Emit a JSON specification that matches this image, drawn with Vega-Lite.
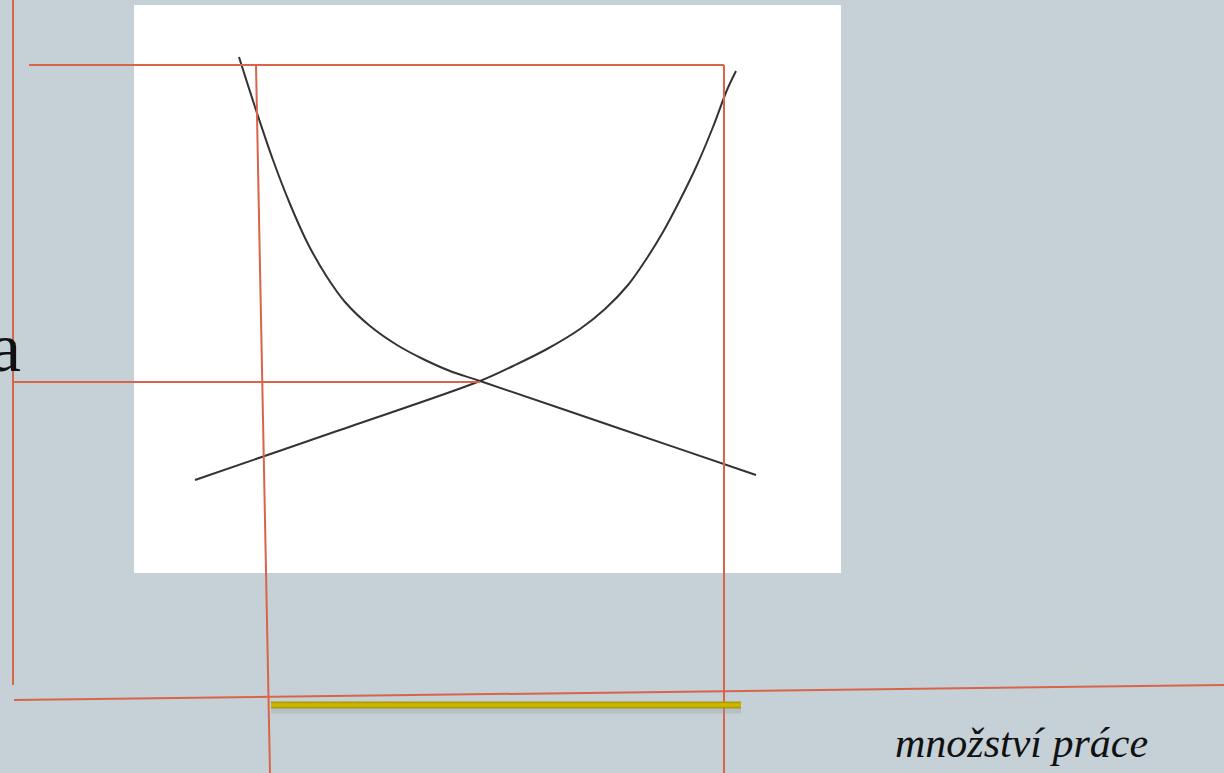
{
  "$schema": "https://vega.github.io/schema/vega-lite/v6.json",
  "autosize": {"type": "none"},
  "padding": 0,
  "width": 1224,
  "height": 773,
  "background": "#c5d0d7",
  "config": {"view": {"stroke": null}, "axis": {"disable": true}},
  "datasets": {
    "panel": [{"x1": 134, "x2": 841, "y1": 5, "y2": 573}],
    "guides": [
      {"id": "L1", "x1": 13, "y1": 0, "x2": 13, "y2": 685},
      {"id": "L2", "x1": 29, "y1": 65, "x2": 724, "y2": 65},
      {"id": "L3", "x1": 724, "y1": 65, "x2": 724, "y2": 773},
      {"id": "L4", "x1": 256, "y1": 65, "x2": 270, "y2": 773},
      {"id": "L5", "x1": 14, "y1": 382, "x2": 480, "y2": 382},
      {"id": "L6", "x1": 14, "y1": 700, "x2": 1224, "y2": 685}
    ],
    "bar": [{"x1": 271, "y1": 705, "x2": 741, "y2": 705, "ys": 710}],
    "curves": [
      {"s": "c1", "x": 239, "y": 57},
      {"s": "c1", "x": 255, "y": 107},
      {"s": "c1", "x": 273, "y": 160},
      {"s": "c1", "x": 290, "y": 204},
      {"s": "c1", "x": 308, "y": 244},
      {"s": "c1", "x": 327, "y": 277},
      {"s": "c1", "x": 345, "y": 302},
      {"s": "c1", "x": 370, "y": 326},
      {"s": "c1", "x": 397, "y": 345},
      {"s": "c1", "x": 423, "y": 359},
      {"s": "c1", "x": 450, "y": 371},
      {"s": "c1", "x": 480, "y": 381},
      {"s": "c1", "x": 618, "y": 428},
      {"s": "c1", "x": 756, "y": 475},
      {"s": "c2", "x": 195, "y": 480},
      {"s": "c2", "x": 337, "y": 431},
      {"s": "c2", "x": 480, "y": 381},
      {"s": "c2", "x": 513, "y": 366},
      {"s": "c2", "x": 547, "y": 349},
      {"s": "c2", "x": 580, "y": 329},
      {"s": "c2", "x": 605, "y": 309},
      {"s": "c2", "x": 628, "y": 285},
      {"s": "c2", "x": 647, "y": 258},
      {"s": "c2", "x": 663, "y": 232},
      {"s": "c2", "x": 680, "y": 200},
      {"s": "c2", "x": 697, "y": 165},
      {"s": "c2", "x": 713, "y": 127},
      {"s": "c2", "x": 727, "y": 90},
      {"s": "c2", "x": 736, "y": 71}
    ],
    "labelA": [{"x": 21, "y": 371, "t": "a"}],
    "labelX": [{"x": 895, "y": 757, "t": "množství práce"}]
  },
  "layer": [
    {
      "data": {"name": "panel"},
      "mark": {"type": "rect", "color": "#ffffff"},
      "encoding": {
        "x": {"field": "x1", "type": "quantitative", "scale": {"domain": [0, 1224], "nice": false, "zero": false}, "axis": null},
        "x2": {"field": "x2"},
        "y": {"field": "y1", "type": "quantitative", "scale": {"domain": [0, 773], "nice": false, "zero": false, "reverse": true}, "axis": null},
        "y2": {"field": "y2"}
      }
    },
    {
      "data": {"name": "curves"},
      "mark": {"type": "line", "color": "#333333", "strokeWidth": 2, "interpolate": "catmull-rom"},
      "encoding": {
        "x": {"field": "x", "type": "quantitative", "scale": {"domain": [0, 1224], "nice": false, "zero": false}, "axis": null},
        "y": {"field": "y", "type": "quantitative", "scale": {"domain": [0, 773], "nice": false, "zero": false, "reverse": true}, "axis": null},
        "detail": {"field": "s", "type": "nominal"},
        "order": {"field": "x", "type": "quantitative"}
      }
    },
    {
      "data": {"name": "guides"},
      "mark": {"type": "rule", "color": "#d9644a", "strokeWidth": 2},
      "encoding": {
        "x": {"field": "x1", "type": "quantitative", "scale": {"domain": [0, 1224], "nice": false, "zero": false}, "axis": null},
        "x2": {"field": "x2"},
        "y": {"field": "y1", "type": "quantitative", "scale": {"domain": [0, 773], "nice": false, "zero": false, "reverse": true}, "axis": null},
        "y2": {"field": "y2"}
      }
    },
    {
      "data": {"name": "bar"},
      "mark": {"type": "rule", "color": "#8e99a2", "strokeWidth": 7, "opacity": 0.3},
      "encoding": {
        "x": {"field": "x1", "type": "quantitative", "scale": {"domain": [0, 1224], "nice": false, "zero": false}, "axis": null},
        "x2": {"field": "x2"},
        "y": {"field": "ys", "type": "quantitative", "scale": {"domain": [0, 773], "nice": false, "zero": false, "reverse": true}, "axis": null}
      }
    },
    {
      "data": {"name": "bar"},
      "mark": {"type": "rule", "color": "#ae9c00", "strokeWidth": 7},
      "encoding": {
        "x": {"field": "x1", "type": "quantitative", "scale": {"domain": [0, 1224], "nice": false, "zero": false}, "axis": null},
        "x2": {"field": "x2"},
        "y": {"field": "y1", "type": "quantitative", "scale": {"domain": [0, 773], "nice": false, "zero": false, "reverse": true}, "axis": null}
      }
    },
    {
      "data": {"name": "bar"},
      "mark": {"type": "rule", "color": "#ccb600", "strokeWidth": 3.5},
      "encoding": {
        "x": {"field": "x1", "type": "quantitative", "scale": {"domain": [0, 1224], "nice": false, "zero": false}, "axis": null},
        "x2": {"field": "x2"},
        "y": {"field": "y1", "type": "quantitative", "scale": {"domain": [0, 773], "nice": false, "zero": false, "reverse": true}, "axis": null}
      }
    },
    {
      "data": {"name": "labelA"},
      "mark": {"type": "text", "font": "Liberation Serif", "fontSize": 70, "color": "#111111", "align": "right", "baseline": "alphabetic"},
      "encoding": {
        "x": {"field": "x", "type": "quantitative", "scale": {"domain": [0, 1224], "nice": false, "zero": false}, "axis": null},
        "y": {"field": "y", "type": "quantitative", "scale": {"domain": [0, 773], "nice": false, "zero": false, "reverse": true}, "axis": null},
        "text": {"field": "t"}
      }
    },
    {
      "data": {"name": "labelX"},
      "mark": {"type": "text", "font": "Liberation Serif", "fontStyle": "italic", "fontSize": 42, "color": "#111111", "align": "left", "baseline": "alphabetic"},
      "encoding": {
        "x": {"field": "x", "type": "quantitative", "scale": {"domain": [0, 1224], "nice": false, "zero": false}, "axis": null},
        "y": {"field": "y", "type": "quantitative", "scale": {"domain": [0, 773], "nice": false, "zero": false, "reverse": true}, "axis": null},
        "text": {"field": "t"}
      }
    }
  ]
}
